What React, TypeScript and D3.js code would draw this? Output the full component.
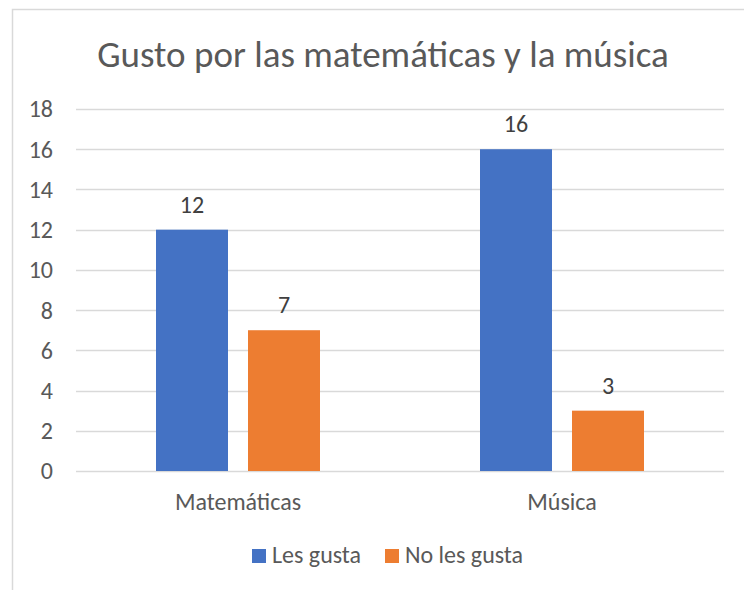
import React, { useEffect, useRef } from "react";
import * as d3 from "d3";

const categories = ["Matemáticas", "Música"];
const seriesNames = ["Les gusta", "No les gusta"];
const lesGusta = [12, 16];
const noLesGusta = [7, 3];
const yTicks = [0, 2, 4, 6, 8, 10, 12, 14, 16, 18];
const title = "Gusto por las matemáticas y la música";

const colors = ["#4472C4", "#ED7D31"];
const FONT = "Carlito, Calibri, Lato, 'Open Sans', sans-serif";
const TEXT = "#595959";

export default function App() {
  const ref = useRef<SVGSVGElement>(null);

  useEffect(() => {
    const svg = d3.select(ref.current);
    svg.selectAll("*").remove();
    const W = 744, H = 590;
    const left = 76, right = 724, top = 109, bottom = 471;

    svg.append("rect").attr("x", 0).attr("y", 0).attr("width", W).attr("height", H).attr("fill", "#fff");
    svg.append("rect").attr("x", 12.5).attr("y", 9.5).attr("width", 900).attr("height", 900)
      .attr("fill", "none").attr("stroke", "#D9D9D9").attr("stroke-width", 1.5);

    svg.append("text").attr("x", 383).attr("y", 67).attr("text-anchor", "middle")
      .attr("font-family", FONT).attr("font-size", 37).attr("fill", TEXT).text(title);

    const y = d3.scaleLinear().domain([0, 18]).range([bottom, top]);
    const x0 = d3.scaleBand().domain(categories).range([left, right]).paddingInner(0).paddingOuter(0);
    const x1 = d3.scaleBand().domain(seriesNames).range([0, 164]).paddingInner(2 - 164 / 92).paddingOuter(0);

    const g = svg.append("g");
    yTicks.forEach(t => {
      g.append("line").attr("x1", left).attr("x2", right)
        .attr("y1", Math.round(y(t)) + 0.5).attr("y2", Math.round(y(t)) + 0.5)
        .attr("stroke", "#D9D9D9").attr("stroke-width", 1.5);
      g.append("text").attr("x", 53).attr("y", y(t)).attr("dy", "0.35em")
        .attr("text-anchor", "end").attr("font-family", FONT).attr("font-size", 24)
        .attr("fill", TEXT).text(String(t));
    });

    const series = [lesGusta, noLesGusta];
    categories.forEach((c, ci) => {
      const cx = x0(c)! + x0.bandwidth() / 2;
      const gx = cx - 82;
      seriesNames.forEach((s, si) => {
        const v = series[si][ci];
        const bx = gx + x1(s)!;
        const bw = x1.bandwidth();
        g.append("rect").attr("x", bx).attr("y", y(v)).attr("width", bw)
          .attr("height", y(0) - y(v)).attr("fill", colors[si]);
        g.append("text").attr("x", bx + bw / 2).attr("y", y(v) - 17)
          .attr("text-anchor", "middle").attr("font-family", FONT).attr("font-size", 24)
          .attr("fill", "#404040").text(String(v));
      });
      g.append("text").attr("x", cx).attr("y", 510).attr("text-anchor", "middle")
        .attr("font-family", FONT).attr("font-size", 24).attr("fill", TEXT).text(c);
    });

    const legendX = [252, 385];
    seriesNames.forEach((s, si) => {
      svg.append("rect").attr("x", legendX[si]).attr("y", 549).attr("width", 14).attr("height", 14)
        .attr("fill", colors[si]);
      svg.append("text").attr("x", legendX[si] + 20).attr("y", 563)
        .attr("font-family", FONT).attr("font-size", 24).attr("fill", TEXT).text(s);
    });
  }, []);

  return (
    <svg ref={ref} width={744} height={590}
      style={{ position: "absolute", left: 0, top: 0, display: "block" }} />
  );
}
